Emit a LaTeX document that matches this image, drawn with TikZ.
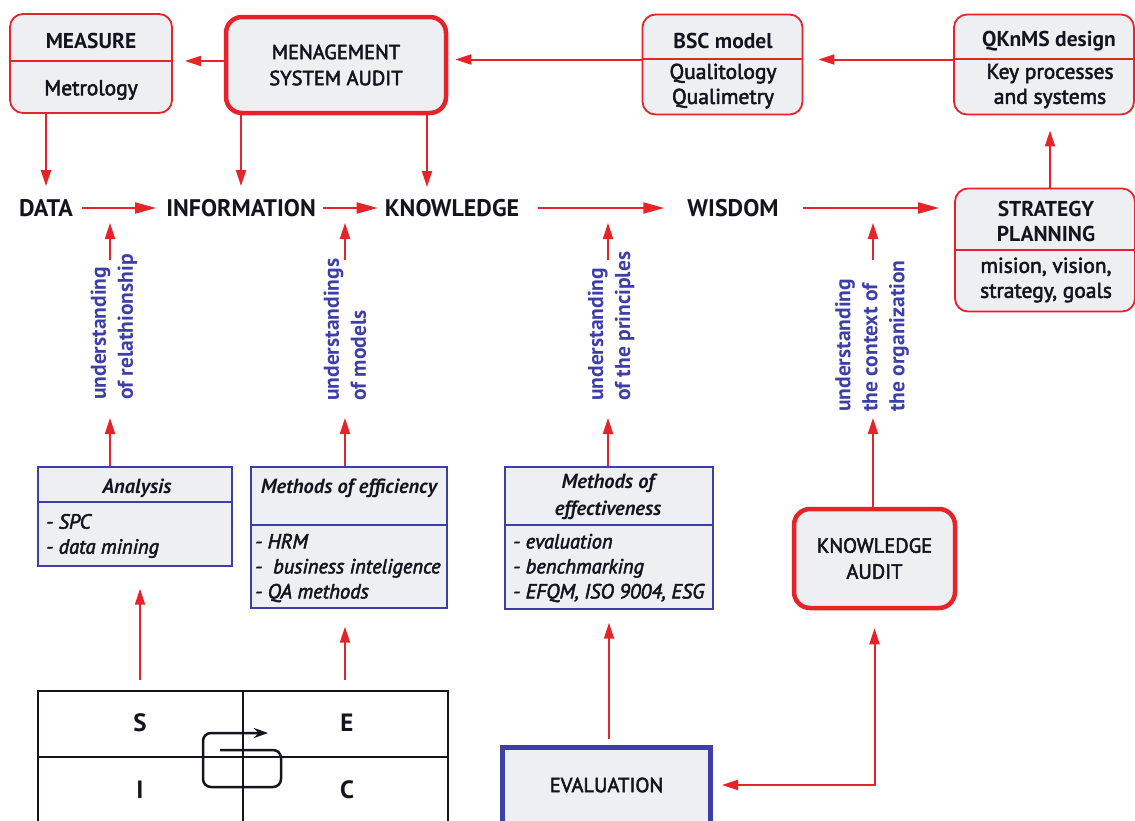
\documentclass[tikz,border=0pt]{standalone}
\usepackage{fontspec}
\setmainfont{PT Sans}
\newfontfamily\semib[FakeBold=2.5]{PT Sans}
\usetikzlibrary{arrows.meta}

\definecolor{kred}{RGB}{230,35,40}
\definecolor{kblue}{RGB}{62,62,168}
\definecolor{kgray}{RGB}{238,239,242}
\definecolor{kink}{RGB}{20,20,30}

\begin{document}
\begin{tikzpicture}[x=1pt,y=1pt]
\tikzstyle{every node}+=[inner sep=0pt,text=kink]
\tikzstyle{redbox}=[draw=kred,fill=kgray,line width=1.8pt,rounded corners=13pt]
\tikzstyle{auditbox}=[draw=kred,fill=kgray,line width=4.5pt,rounded corners=16pt,align=center,font=\fontsize{20.5}{26}\semib]
\tikzstyle{methbox}=[draw=kblue,fill=kgray,line width=1.4pt]
\tikzstyle{level}=[font=\fontsize{24}{28}\selectfont\bfseries]
\tikzstyle{head}=[font=\fontsize{21.5}{25}\selectfont\bfseries,align=center]
\tikzstyle{body}=[font=\fontsize{21.5}{25}\semib,align=center]
\tikzstyle{mhead}=[font=\fontsize{20.5}{27}\selectfont\bfseries\itshape,align=center]
\tikzstyle{meth}=[font=\fontsize{20.5}{25}\semib\itshape,align=left,anchor=west]
\tikzstyle{lab}=[font=\fontsize{21.5}{27}\selectfont\bfseries,text=kblue,rotate=90,anchor=west,align=left]
\tikzstyle{quad}=[font=\fontsize{25}{28}\selectfont\bfseries]
\tikzstyle{flow}=[draw=kred,line width=2pt,-{Triangle[length=16pt,width=10pt]}]
\tikzstyle{bigflow}=[draw=kred,line width=2pt,-{Triangle[length=21pt,width=11pt]}]
\tikzstyle{split}=[draw=kred,line width=1.8pt]

\useasboundingbox (0,0) rectangle (1135,-820);
\clip (0,0) rectangle (1135,-820);

% top row
\node[redbox,minimum width=162pt,minimum height=99pt] (measure) at (91,-63.5) {};
\draw[split] ([yshift=2.5pt]measure.west) -- ([yshift=2.5pt]measure.east);
\node[head] (measure-t) at (91,-41) {MEASURE};
\node[body] (measure-b) at (91,-90) {Metrology};

\node[auditbox,minimum width=220pt,minimum height=96pt] (msa) at (336,-65) {MENAGEMENT\\SYSTEM AUDIT};

\node[redbox,minimum width=160pt,minimum height=100pt] (bsc) at (722.5,-64.5) {};
\draw[split] ([yshift=5.5pt]bsc.west) -- ([yshift=5.5pt]bsc.east);
\node[head] (bsc-t) at (723,-41) {BSC model};
\node[body] (bsc-b) at (723,-86) {Qualitology\\Qualimetry};

\node[redbox,minimum width=180pt,minimum height=100pt] (qk) at (1044,-64.5) {};
\draw[split] ([yshift=5.5pt]qk.west) -- ([yshift=5.5pt]qk.east);
\node[head] (qk-t) at (1049,-41) {QKnMS design};
\node[body] (qk-b) at (1050,-86) {Key processes\\and systems};

\node[redbox,minimum width=180pt,minimum height=123pt] (strat) at (1045,-250) {};
\draw[split] (strat.west) -- (strat.east);
\node[head] (strat-t) at (1046,-221) {STRATEGY\\PLANNING};
\node[body] (strat-b) at (1046,-280) {mision, vision,\\strategy, goals};

\draw[flow,shorten >=12pt] ([yshift=4pt]msa.west) -- ([yshift=4pt]msa.west -| measure.east);
\draw[flow,shorten >=7pt] ([yshift=5pt]bsc.west) -- ([yshift=5pt]bsc.west -| msa.east);
\draw[flow,shorten >=15pt] ([yshift=5pt]qk.west) -- ([yshift=5pt]qk.west -| bsc.east);
\draw[flow,shorten >=15pt] ([xshift=5pt]strat.north) -- ([xshift=5pt]strat.north |- qk.south);

% levels
\node[level] (data) at (46,-208) {DATA};
\node[level] (info) at (241,-208) {INFORMATION};
\node[level] (know) at (452,-208) {KNOWLEDGE};
\node[level] (wis) at (733,-208) {WISDOM};

\draw[bigflow,shorten <=9pt,shorten >=10pt] (data) -- (info);
\draw[bigflow,shorten <=7pt,shorten >=7pt] (info) -- (know);
\draw[bigflow,shorten <=19pt,shorten >=23pt] (know) -- (wis);
\draw[bigflow,shorten <=24pt,shorten >=15pt] (wis) -- (wis -| strat.west);

\coordinate (kin) at (427,-199);
\draw[flow,shorten >=13pt] (data.north |- measure.south) -- (data.north);
\draw[flow,shorten >=13pt] (info.north |- msa.south) -- (info.north);
\draw[flow,shorten >=12pt] (kin |- msa.south) -- (kin);

% understanding labels
\node[lab] (lrel) at (114,-400) {understanding\\of relathionship};
\node[lab] (lmod) at (345,-401) {understandings\\of models};
\node[lab] (lpri) at (611,-401) {understanding\\of the principles};
\node[lab] (lctx) at (872,-412) {understanding\\the context of\\the organization};

\coordinate (u1) at (110,-223); \coordinate (u1s) at (110,-260);
\coordinate (u2) at (345,-223); \coordinate (u2s) at (345,-260);
\coordinate (u3) at (608,-223); \coordinate (u3s) at (608,-260);
\coordinate (u4) at (873,-223); \coordinate (u4s) at (873,-260);
\draw[flow] (u1s) -- (u1);
\draw[flow] (u2s) -- (u2);
\draw[flow] (u3s) -- (u3);
\draw[flow] (u4s) -- (u4);

% methods
\node[methbox,minimum width=194pt,minimum height=99pt] (analysis) at (135,-516.5) {};
\draw[kblue,line width=1.4pt] ([yshift=14.5pt]analysis.west) -- ([yshift=14.5pt]analysis.east);
\node[mhead] (analysis-t) at (137,-488) {Analysis};
\node[meth] (analysis-b) at (46,-536) {- SPC\\- data mining};

\node[methbox,minimum width=196pt,minimum height=141pt] (eff) at (349,-537.5) {};
\draw[kblue,line width=1.4pt] ([yshift=12.5pt]eff.west) -- ([yshift=12.5pt]eff.east);
\node[mhead] (eff-t) at (349,-488) {Methods of efficiency};
\node[meth] (eff-b) at (255,-568) {- HRM\\-\ \ business inteligence\\- QA methods};

\node[methbox,minimum width=208pt,minimum height=142pt] (effect) at (609,-538) {};
\draw[kblue,line width=1.4pt] ([yshift=13pt]effect.west) -- ([yshift=13pt]effect.east);
\node[mhead] (effect-t) at (608,-497) {Methods of\\effectiveness};
\node[meth] (effect-b) at (513,-568) {- evaluation\\- benchmarking\\- EFQM, ISO 9004, ESG};

\node[auditbox,minimum width=161pt,minimum height=99pt] (kaudit) at (874.5,-558.5) {KNOWLEDGE\\AUDIT};

\coordinate (d1) at (110,-418);
\coordinate (d2) at (345,-418);
\coordinate (d3) at (608,-418);
\coordinate (d4) at (873,-418);
\draw[flow] (analysis.north -| d1) -- (d1);
\draw[flow] (eff.north -| d2) -- (d2);
\draw[flow] (effect.north -| d3) -- (d3);
\draw[flow] (kaudit.north -| d4) -- (d4);

% SECI
\node[draw=kink,line width=2pt,minimum width=410pt,minimum height=140pt] (seci) at (243,-761) {};
\draw[kink,line width=2pt] (seci.north) -- (seci.south);
\draw[kink,line width=2pt] ([yshift=4pt]seci.west) -- ([yshift=4pt]seci.east);
\node[quad] (q-s) at (140,-723) {S};
\node[quad] (q-e) at (347,-723) {E};
\node[quad] (q-i) at (140,-790) {I};
\node[quad] (q-c) at (347,-790) {C};
\draw[kink,line width=2.5pt,rounded corners=8pt,-{Stealth[length=14pt,width=10pt]}]
  (220,-750) -- (281,-750) -- (281,-787) -- (203,-787) -- (203,-733) -- (268,-733);

\coordinate (sx1) at (140,0);
\coordinate (sx2) at (345,0);
\draw[flow,shorten <=10pt,shorten >=22pt] (seci.north -| sx1) -- (analysis.south -| sx1);
\draw[flow,shorten <=10pt,shorten >=18pt] (seci.north -| sx2) -- (eff.south -| sx2);

% evaluation
\node[draw=kblue,fill=kgray,line width=5pt,minimum width=208pt,minimum height=110pt] (eval) at (606.5,-802.5) {};
\node[font=\fontsize{20.5}{24}\semib] (eval-t) at (606.5,-785) {EVALUATION};
\draw[flow,shorten <=6pt,shorten >=13pt] (eval.north -| effect.south) -- (effect.south);
\draw[draw=kred,line width=2pt,{Triangle[length=16pt,width=10pt]}-{Triangle[length=16pt,width=10pt]},shorten <=9pt,shorten >=18pt]
  ([yshift=17.5pt]eval.east) -| (kaudit.south);
\end{tikzpicture}
\end{document}
